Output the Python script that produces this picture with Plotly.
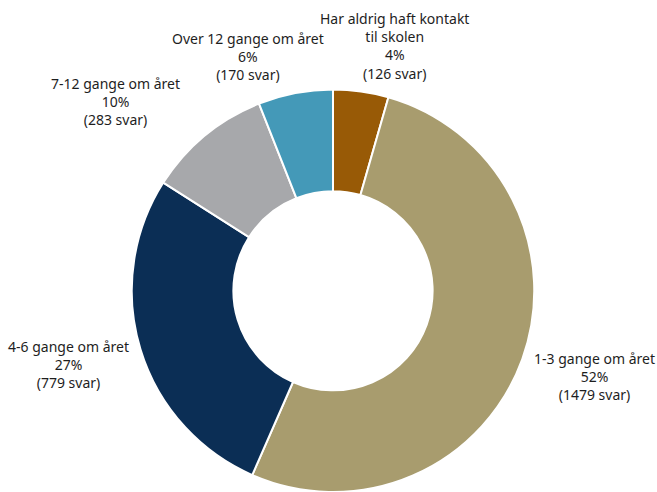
import plotly.graph_objects as go

# Hvor ofte har du hatt kontakt med skolen?
categories = [
    "Har aldrig haft kontakt<br>til skolen",
    "1-3 gange om året",
    "4-6 gange om året",
    "7-12 gange om året",
    "Over 12 gange om året",
]
answers = [126, 1479, 779, 283, 170]
colors = ["#985A06", "#A89C6E", "#0B2E55", "#A7A8AB", "#4499B8"]

# label centres in pixels (layout only)
label_px = [(394, 46), (594, 376), (68, 364), (115, 101), (248, 57)]

W, H = 657, 492
total = sum(answers)

fig = go.Figure()
cx, cy, r = 333, 291, 201.5
fig.add_trace(go.Pie(
    values=answers,
    labels=categories,
    sort=False,
    direction="clockwise",
    rotation=0,
    hole=0.495,
    marker=dict(colors=colors, line=dict(color="white", width=2)),
    textinfo="none",
    hoverinfo="label+value+percent",
    showlegend=False,
    domain=dict(x=[(cx - r) / W, (cx + r) / W], y=[0, 1 - (cy - r) / H]),
))

for cat, n, (px, py) in zip(categories, answers, label_px):
    pct = round(100 * n / total)
    fig.add_annotation(
        x=px / W, y=1 - py / H, xref="paper", yref="paper",
        xanchor="center", yanchor="middle", showarrow=False,
        text=f"{cat}<br>{pct}%<br>({n} svar)",
        align="center",
        font=dict(family="Noto Sans", size=14, color="#1e1e1e"),
    )

fig.update_layout(
    width=W, height=H,
    margin=dict(l=0, r=0, t=0, b=0),
    paper_bgcolor="white",
    plot_bgcolor="white",
)

fig.write_html("out.html")
